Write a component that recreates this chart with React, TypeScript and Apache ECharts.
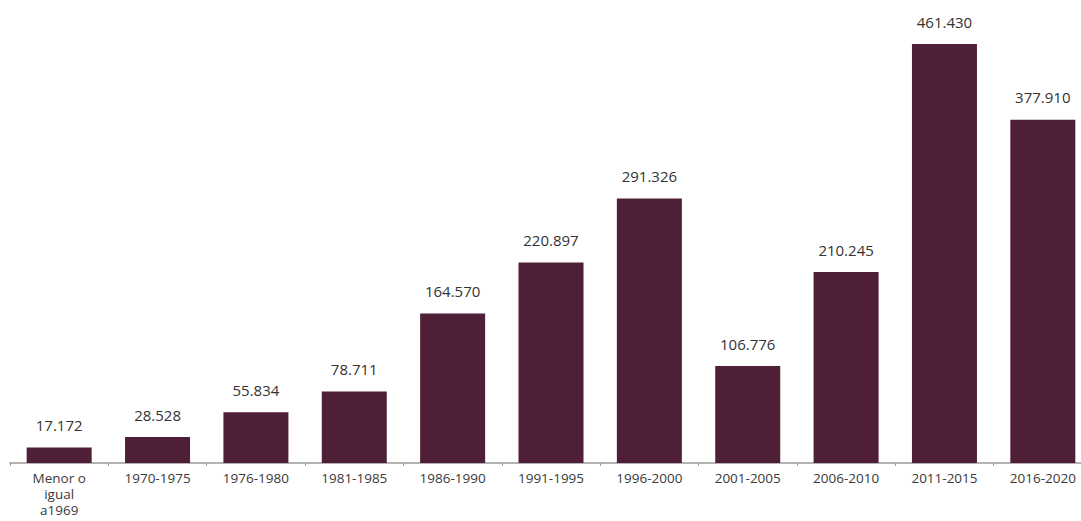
import React, { useEffect, useRef } from "react";
import * as echarts from "echarts";

const categories = [
  "Menor o\nigual\na1969",
  "1970-1975",
  "1976-1980",
  "1981-1985",
  "1986-1990",
  "1991-1995",
  "1996-2000",
  "2001-2005",
  "2006-2010",
  "2011-2015",
  "2016-2020",
];
const values = [17172, 28528, 55834, 78711, 164570, 220897, 291326, 106776, 210245, 461430, 377910];

const fmt = (v: number) => {
  const s = String(Math.round(v));
  return s.replace(/\B(?=(\d{3})+(?!\d))/g, ".");
};

export default function App() {
  const ref = useRef<HTMLDivElement>(null);
  useEffect(() => {
    if (!ref.current) return;
    const chart = echarts.init(ref.current, undefined, { renderer: "svg" });
    chart.setOption({
      animation: false,
      backgroundColor: "#ffffff",
      grid: { left: 10, top: 9, right: 8, bottom: 58, containLabel: false },
      xAxis: {
        type: "category",
        data: categories,
        axisLine: { lineStyle: { color: "#9a9a9a", width: 1.5 } },
        axisTick: { show: true, length: 3, lineStyle: { color: "#9a9a9a" } },
        axisLabel: {
          color: "#3a3a3a",
          fontSize: 13.5,
          fontFamily: "Open Sans",
          margin: 7,
          lineHeight: 16,
          interval: 0,
        },
      },
      yAxis: {
        type: "value",
        min: 0,
        max: 500000,
        show: false,
        splitLine: { show: false },
      },
      series: [
        {
          type: "bar",
          data: values,
          barWidth: 65,
          itemStyle: { color: "#4f1f38" },
          label: {
            show: true,
            position: "top",
            distance: 15,
            color: "#333333",
            fontSize: 15,
            fontFamily: "Open Sans",
            formatter: (p: any) => fmt(p.value),
          },
        },
      ],
    });
    return () => chart.dispose();
  }, []);
  return (
    <div style={{ width: 1081, height: 521, position: "absolute", left: 0, top: 0, overflow: "hidden", background: "#fff" }}>
      <div ref={ref} style={{ width: 1100, height: 521 }} />
    </div>
  );
}
